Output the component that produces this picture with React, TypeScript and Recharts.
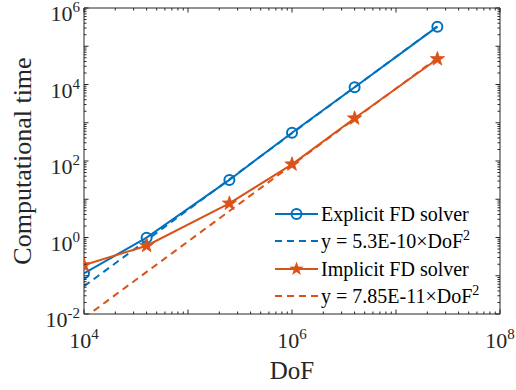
import React from 'react';
import { LineChart, Line, XAxis, YAxis } from 'recharts';

// degrees of freedom (grid sizes 100^2 ... 5000^2)
const dof = [1e4, 4e4, 2.5e5, 1e6, 4e6, 2.5e7];
const explicitTime = [0.116, 0.99, 32, 550, 8500, 325000];
const explicitFit = [0.053, 0.848, 33.1, 530, 8480, 331000];
const implicitTime = [0.19, 0.61, 7.8, 82, 1310, 46500];
const implicitFit = [0.00785, 0.126, 4.91, 78.5, 1256, 49100];

const xDecades = [4, 5, 6, 7, 8];
const yDecades = [-2, -1, 0, 1, 2, 3, 4, 5, 6];
const xLabelled = [4, 6, 8];
const yLabelled = [-2, 0, 2, 4, 6];

const BLUE = '#0072BD';
const ORANGE = '#D95319';
const AXIS = '#262626';
const FONT = "'Liberation Serif', serif";

const logTicks = (decades: number[]) => {
  const out: number[] = [];
  decades.forEach((d, i) => {
    out.push(Math.pow(10, d));
    if (i < decades.length - 1) {
      for (let m = 2; m <= 9; m++) out.push(m * Math.pow(10, d));
    }
  });
  return out;
};

const xTicks = logTicks(xDecades);
const yTicks = logTicks(yDecades);

const data = dof.map((d, i) => ({
  dof: d,
  explicit: explicitTime[i],
  explicitFit: explicitFit[i],
  implicit: implicitTime[i],
  implicitFit: implicitFit[i],
}));

const expOf = (v: number) => Math.round(Math.log10(v));
const isMajor = (v: number) => Math.abs(Math.log10(v) - expOf(v)) < 1e-9;

const makeXTick = (side: 'top' | 'bottom') => (props: any) => {
  const { x, y, payload } = props;
  const v = payload.value;
  const major = isMajor(v);
  const len = major ? 4.5 : 2.5;
  const dir = side === 'top' ? 1 : -1;
  const e = expOf(v);
  return (
    <g>
      <line x1={x} x2={x} y1={y} y2={y + dir * len} stroke={AXIS} strokeWidth={1} />
      {side === 'bottom' && major && xLabelled.includes(e) && (
        <text x={x} y={y + 34} textAnchor="middle" fill={AXIS} fontFamily={FONT} fontSize={22}>
          <tspan>10</tspan>
          <tspan dy={-9} fontSize={15}>{e}</tspan>
        </text>
      )}
    </g>
  );
};

const makeYTick = (side: 'left' | 'right') => (props: any) => {
  const { x, y, payload } = props;
  const v = payload.value;
  const major = isMajor(v);
  const len = major ? 4.5 : 2.5;
  const dir = side === 'left' ? 1 : -1;
  const e = expOf(v);
  return (
    <g>
      <line x1={x} x2={x + dir * len} y1={y} y2={y} stroke={AXIS} strokeWidth={1} />
      {side === 'left' && major && yLabelled.includes(e) && (
        <text x={x - 4} y={y + 13} textAnchor="end" fill={AXIS} fontFamily={FONT} fontSize={22}>
          <tspan>10</tspan>
          <tspan dy={-9} fontSize={15}>{e}</tspan>
        </text>
      )}
    </g>
  );
};

const CircleDot = (props: any) => {
  const { cx, cy } = props;
  if (cx == null || cy == null) return null;
  return <circle cx={cx} cy={cy} r={5} fill="none" stroke={BLUE} strokeWidth={2} />;
};

const starPoints = (cx: number, cy: number, R: number, r: number) => {
  const pts: string[] = [];
  for (let i = 0; i < 10; i++) {
    const rad = i % 2 === 0 ? R : r;
    const a = -Math.PI / 2 + (i * Math.PI) / 5;
    pts.push(`${cx + rad * Math.cos(a)},${cy + rad * Math.sin(a)}`);
  }
  return pts.join(' ');
};

const StarDot = (props: any) => {
  const { cx, cy } = props;
  if (cx == null || cy == null) return null;
  return <polygon points={starPoints(cx, cy, 7.5, 3)} fill={ORANGE} stroke={ORANGE} strokeWidth={0.8} />;
};

const legendItems = [
  { label: 'Explicit FD solver', color: BLUE, dashed: false, marker: 'circle', fit: '' },
  { label: 'y = 5.3E-10\u00D7DoF', color: BLUE, dashed: true, marker: '', fit: '2' },
  { label: 'Implicit FD solver', color: ORANGE, dashed: false, marker: 'star', fit: '' },
  { label: 'y = 7.85E-11\u00D7DoF', color: ORANGE, dashed: true, marker: '', fit: '2' },
];

const ChartLegend = () => (
  <div style={{ position: 'absolute', left: 275, top: 200, fontFamily: FONT, fontSize: 20, color: '#000' }}>
    {legendItems.map((it) => (
      <div key={it.label} style={{ display: 'flex', alignItems: 'center', height: 27.5 }}>
        <svg width={46} height={20} style={{ flex: 'none' }}>
          <line
            x1={0}
            x2={43}
            y1={10}
            y2={10}
            stroke={it.color}
            strokeWidth={2}
            strokeDasharray={it.dashed ? '7 5' : undefined}
          />
          {it.marker === 'circle' && <circle cx={21.5} cy={10} r={5} fill="none" stroke={it.color} strokeWidth={2} />}
          {it.marker === 'star' && <polygon points={starPoints(21.5, 10, 7.5, 3)} fill={it.color} />}
        </svg>
        <span style={{ whiteSpace: 'nowrap', lineHeight: '20px', fontFamily: FONT }}>
          {it.label}
          {it.fit && <sup style={{ fontSize: 14, lineHeight: 0, position: 'relative', top: -1 }}>{it.fit}</sup>}
        </span>
      </div>
    ))}
  </div>
);

export default function App() {
  return (
    <div style={{ position: 'absolute', left: 0, top: 0, width: 516, height: 390, background: '#fff' }}>
      <LineChart width={516} height={390} data={data} margin={{ top: 7, right: 15, bottom: 0, left: 0 }}>
        <XAxis
          dataKey="dof"
          type="number"
          scale="log"
          domain={[1e4, 1e8]}
          allowDataOverflow
          ticks={xTicks}
          interval={0}
          tickLine={false}
          tickSize={0}
          tickMargin={0}
          height={76}
          axisLine={{ stroke: AXIS }}
          tick={makeXTick('bottom')}
          label={(p: any) => {
            const vb = p.viewBox;
            return (
              <text x={vb.x + vb.width / 2} y={vb.y + 65} textAnchor="middle" fill={AXIS} fontFamily={FONT} fontSize={25}>
                DoF
              </text>
            );
          }}
        />
        <XAxis
          xAxisId="top"
          orientation="top"
          dataKey="dof"
          type="number"
          scale="log"
          domain={[1e4, 1e8]}
          allowDataOverflow
          ticks={xTicks}
          interval={0}
          tickLine={false}
          tickSize={0}
          tickMargin={0}
          height={1}
          axisLine={{ stroke: AXIS }}
          tick={makeXTick('top')}
        />
        <YAxis
          type="number"
          scale="log"
          domain={[1e-2, 1e6]}
          allowDataOverflow
          ticks={yTicks}
          interval={0}
          tickLine={false}
          tickSize={0}
          tickMargin={0}
          width={84}
          axisLine={{ stroke: AXIS }}
          tick={makeYTick('left')}
          label={(p: any) => {
            const vb = p.viewBox;
            const cx = vb.x + 22;
            const cy = vb.y + vb.height / 2;
            return (
              <text
                x={cx}
                y={cy}
                transform={`rotate(-90 ${cx} ${cy})`}
                textAnchor="middle"
                dominantBaseline="central"
                fill={AXIS}
                fontFamily={FONT}
                fontSize={26}
              >
                Computational time
              </text>
            );
          }}
        />
        <YAxis
          yAxisId="right"
          orientation="right"
          type="number"
          scale="log"
          domain={[1e-2, 1e6]}
          allowDataOverflow
          ticks={yTicks}
          interval={0}
          tickLine={false}
          tickSize={0}
          tickMargin={0}
          width={1}
          axisLine={{ stroke: AXIS }}
          tick={makeYTick('right')}
        />
        <Line
          xAxisId="top"
          yAxisId="right"
          dataKey="explicit"
          stroke="none"
          dot={false}
          activeDot={false}
          legendType="none"
          isAnimationActive={false}
        />
        <Line
          dataKey="explicit"
          type="linear"
          stroke={BLUE}
          strokeWidth={2}
          dot={<CircleDot />}
          activeDot={false}
          isAnimationActive={false}
        />
        <Line
          dataKey="explicitFit"
          type="linear"
          stroke={BLUE}
          strokeWidth={2}
          strokeDasharray="7 5"
          dot={false}
          activeDot={false}
          isAnimationActive={false}
        />
        <Line
          dataKey="implicit"
          type="linear"
          stroke={ORANGE}
          strokeWidth={2}
          dot={<StarDot />}
          activeDot={false}
          isAnimationActive={false}
        />
        <Line
          dataKey="implicitFit"
          type="linear"
          stroke={ORANGE}
          strokeWidth={2}
          strokeDasharray="7 5"
          dot={false}
          activeDot={false}
          isAnimationActive={false}
        />
      </LineChart>
      <ChartLegend />
    </div>
  );
}
